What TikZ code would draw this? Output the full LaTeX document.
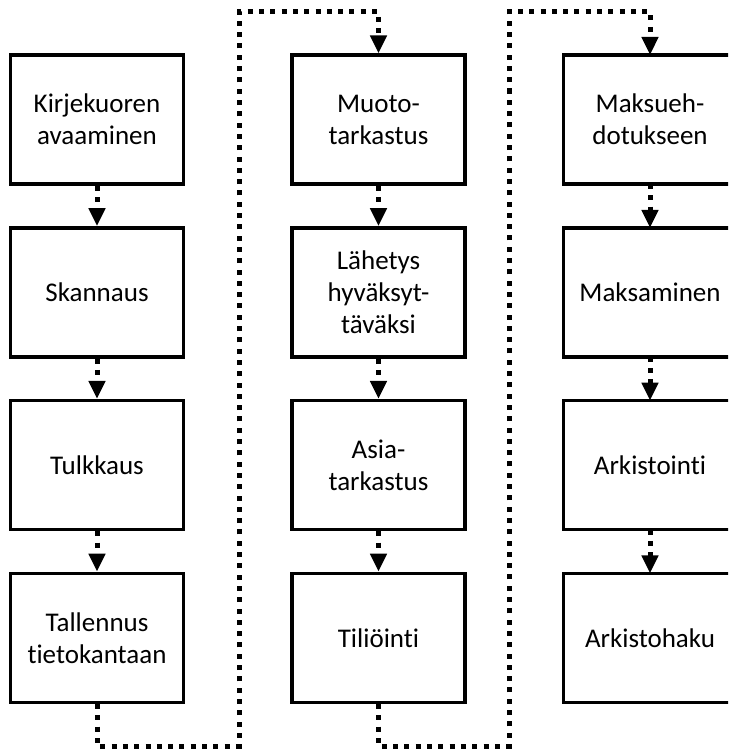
\documentclass[tikz,border=0pt]{standalone}
\usepackage{fontspec}
\setmainfont{Carlito}[Ligatures=NoCommon]
\usetikzlibrary{arrows.meta}
\begin{document}
\begin{tikzpicture}[x=1pt,y=-1pt,
  frame/.style={line width=3.4pt},
  stepbox/.style={draw, frame, minimum width=173pt, minimum height=129pt,
    inner sep=0pt, align=center, font=\fontsize{27}{32}\selectfont},
  % boxes of the last column run on past the right edge of the page
  edgebox/.style={stepbox, draw=none, outer sep=0pt},
  flow/.style={line width=5pt, dash pattern=on 5pt off 6.3pt,
    -{Triangle[width=16pt,length=18pt]}}]
  \useasboundingbox (0,0) rectangle (728,749);
  \clip (0,0) rectangle (728,749);

  % first column
  \node[stepbox] (a1) at (97,119.5) {Kirjekuoren\\avaaminen};
  \node[stepbox] (a2) at (97,292.3) {Skannaus};
  \node[stepbox] (a3) at (97,465.1) {Tulkkaus};
  \node[stepbox] (a4) at (97,637.9) {Tallennus\\tietokantaan};

  % second column
  \node[stepbox] (b1) at (378.5,119.5) {Muoto-\\tarkastus};
  \node[stepbox] (b2) at (378.5,292.3) {Lähetys\\hyväksyt-\\täväksi};
  \node[stepbox] (b3) at (378.5,465.1) {Asia-\\tarkastus};
  \node[stepbox] (b4) at (378.5,637.9) {Tiliöinti};

  % third column
  \node[edgebox] (c1) at (650,119.5) {Maksueh-\\dotukseen};
  \node[edgebox] (c2) at (650,292.3) {Maksaminen};
  \node[edgebox] (c3) at (650,465.1) {Arkistointi};
  \node[edgebox] (c4) at (650,637.9) {Arkistohaku};
  \foreach \n in {c1,c2,c3,c4}
    \draw[frame] (\n.north west) rectangle ([xshift=40pt]\n.south east);

  % steps within a column
  \foreach \col in {a,b,c}{
    \draw[flow] (\col1.south) -- (\col2.north);
    \draw[flow] (\col2.south) -- (\col3.north);
    \draw[flow] (\col3.south) -- (\col4.north);
  }

  % returns from the bottom of one column to the top of the next
  \coordinate (lowA) at (239,746);
  \coordinate (topA) at (239,12);
  \coordinate (lowB) at (509,746);
  \coordinate (topB) at (509,12);
  \draw[flow] (a4.south) |- (lowA) -- (topA) -| (b1.north);
  \draw[flow] (b4.south) |- (lowB) -- (topB) -| (c1.north);
\end{tikzpicture}
\end{document}
